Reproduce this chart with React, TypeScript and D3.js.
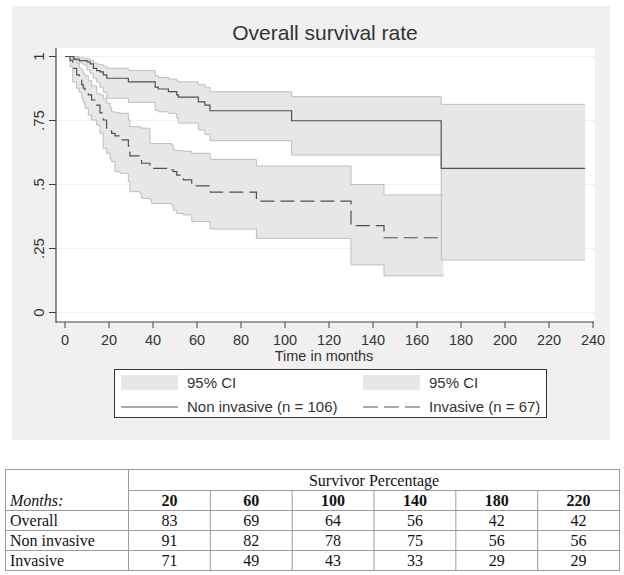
import React, { useEffect, useRef } from 'react';
import * as d3 from 'd3';

const W = 624;
const H = 575;

// Non invasive (n = 106): event times (months), KM estimate and 95% CI
const niTime = [0, 4, 6.4, 8.3, 10, 11.4, 12.9, 14.4, 15.9, 17.4, 19, 28.8, 41, 42.4, 47, 50.8, 51.5, 60.6, 63.6, 65.9, 103, 171, 236.4];
const niSurv = [1, .99, .984, .984, .979, .971, .954, .945, .94, .928, .915, .901, .88, .873, .863, .85, .841, .823, .81, .788, .749, .563, .563];
const niHi = [1, 1, .995, .993, .99, .985, .975, .97, .968, .962, .954, .945, .925, .918, .912, .905, .901, .89, .88, .862, .843, .813, .813];
const niLo = [1, .985, .975, .967, .947, .935, .915, .9, .88, .86, .837, .821, .79, .784, .778, .76, .74, .713, .696, .671, .615, .205, .205];

// Invasive (n = 67)
const invTime = [0, 2.3, 3.5, 5.3, 6.5, 7.6, 8.3, 9.1, 10.6, 12.1, 14.4, 15.9, 17.4, 18.9, 20.5, 21.2, 22.7, 25, 28.8, 29.5, 34, 34.8, 38.6, 39.4, 48.5, 49.2, 50.8, 53.8, 57.6, 66, 87, 130, 145, 172];
const invSurv = [1, .985, .954, .928, .908, .89, .876, .865, .85, .83, .81, .78, .752, .72, .71, .70, .69, .674, .65, .612, .596, .583, .575, .563, .557, .55, .537, .518, .495, .47, .435, .339, .292, .292];
const invHi = [1, 1, .99, .973, .954, .945, .934, .925, .905, .885, .855, .85, .835, .817, .80, .784, .78, .778, .752, .726, .722, .72, .661, .66, .654, .635, .632, .63, .622, .598, .572, .50, .459, .459];
const invLo = [1, .96, .90, .876, .86, .837, .82, .798, .771, .752, .732, .70, .641, .622, .60, .589, .55, .544, .511, .472, .465, .446, .44, .426, .42, .40, .387, .381, .355, .326, .29, .186, .143, .143];

const xTicks = [0, 20, 40, 60, 80, 100, 120, 140, 160, 180, 200, 220, 240];
const yTicks = [0, .25, .5, .75, 1];
const yTickLabels = ['0', '.25', '.5', '.75', '1'];

const tableMonths = [20, 60, 100, 140, 180, 220];
const tableRows = ['Overall', 'Non invasive', 'Invasive'];
const overallPct = [83, 69, 64, 56, 42, 42];
const nonInvPct = [91, 82, 78, 75, 56, 56];
const invPct = [71, 49, 43, 33, 29, 29];

const sans = '"Liberation Sans", Arial, sans-serif';
const serif = '"Liberation Serif", "Times New Roman", serif';

const App = () => {
  const ref = useRef<SVGSVGElement>(null);

  useEffect(() => {
    const svg = d3.select(ref.current);
    svg.selectAll('*').remove();

    svg.append('rect').attr('width', W).attr('height', H).attr('fill', 'white');
    // stata graph region
    svg.append('rect').attr('x', 12).attr('y', 6).attr('width', 598).attr('height', 434).attr('fill', '#f0f0f0');
    svg.append('rect').attr('x', 56).attr('y', 48).attr('width', 539).attr('height', 274).attr('fill', 'white');

    const x = d3.scaleLinear().domain([0, 240]).range([65, 593]);
    const y = d3.scaleLinear().domain([0, 1]).range([312.5, 56.5]);

    // faint grid
    svg.append('g').selectAll('line').data(yTicks).join('line')
      .attr('x1', 57).attr('x2', 595)
      .attr('y1', d => y(d)).attr('y2', d => y(d))
      .attr('stroke', '#f0f0f0').attr('stroke-width', 1);

    svg.append('text')
      .attr('x', 325).attr('y', 40).attr('text-anchor', 'middle')
      .attr('font-family', sans).attr('font-size', 21).attr('fill', '#333')
      .text('Overall survival rate');

    const groups = [
      { t: niTime, s: niSurv, lo: niLo, hi: niHi, dash: null },
      { t: invTime, s: invSurv, lo: invLo, hi: invHi, dash: '14,6' },
    ];

    groups.forEach(g => {
      const idx = d3.range(g.t.length);
      const area = d3.area<number>()
        .x(i => x(g.t[i]))
        .y0(i => y(g.lo[i]))
        .y1(i => y(g.hi[i]))
        .curve(d3.curveStepAfter);
      svg.append('path').attr('d', area(idx)).attr('fill', '#e7e7e7');
    });

    groups.forEach(g => {
      const idx = d3.range(g.t.length);
      [g.lo, g.hi].forEach(arr => {
        const line = d3.line<number>().x(i => x(g.t[i])).y(i => y(arr[i])).curve(d3.curveStepAfter);
        svg.append('path').attr('d', line(idx)).attr('fill', 'none')
          .attr('stroke', '#bdbdbd').attr('stroke-width', 1);
      });
    });

    groups.forEach(g => {
      const idx = d3.range(g.t.length);
      const line = d3.line<number>().x(i => x(g.t[i])).y(i => y(g.s[i])).curve(d3.curveStepAfter);
      const p = svg.append('path').attr('d', line(idx)).attr('fill', 'none')
        .attr('stroke', '#505050').attr('stroke-width', 1.2);
      if (g.dash) p.attr('stroke-dasharray', g.dash);
    });

    // axes
    const yAxis = svg.append('g');
    yAxis.append('line').attr('x1', 56).attr('x2', 56).attr('y1', 48).attr('y2', 322.5)
      .attr('stroke', '#444').attr('stroke-width', 1.2);
    yAxis.selectAll('line.tk').data(yTicks).join('line').attr('class', 'tk')
      .attr('x1', 49).attr('x2', 56).attr('y1', d => y(d)).attr('y2', d => y(d))
      .attr('stroke', '#444').attr('stroke-width', 1);
    yAxis.selectAll('text').data(yTicks).join('text')
      .attr('transform', d => `translate(43.5,${y(d)}) rotate(-90)`)
      .attr('text-anchor', 'middle')
      .attr('font-family', sans).attr('font-size', 15).attr('fill', '#333')
      .text((d, i) => yTickLabels[i]);

    const xAxis = svg.append('g');
    xAxis.append('line').attr('x1', 55.5).attr('x2', 594).attr('y1', 322).attr('y2', 322)
      .attr('stroke', '#444').attr('stroke-width', 1.2);
    xAxis.selectAll('line.tk').data(xTicks).join('line').attr('class', 'tk')
      .attr('x1', d => x(d)).attr('x2', d => x(d)).attr('y1', 322).attr('y2', 328)
      .attr('stroke', '#444').attr('stroke-width', 1);
    xAxis.selectAll('text').data(xTicks).join('text')
      .attr('x', d => x(d)).attr('y', 344.5).attr('text-anchor', 'middle')
      .attr('font-family', sans).attr('font-size', 14.5).attr('fill', '#333')
      .text(d => String(d));
    svg.append('text').attr('x', 324).attr('y', 361).attr('text-anchor', 'middle')
      .attr('font-family', sans).attr('font-size', 14.5).attr('fill', '#333')
      .text('Time in months');

    // legend
    const lg = svg.append('g');
    lg.append('rect').attr('x', 114.5).attr('y', 369.5).attr('width', 432).attr('height', 48)
      .attr('fill', 'white').attr('stroke', '#333').attr('stroke-width', 1);
    const legendCols = [
      { x: 121, label: 'Non invasive (n = 106)', dash: null },
      { x: 363, label: 'Invasive (n = 67)', dash: '15,6' },
    ];
    legendCols.forEach(c => {
      lg.append('rect').attr('x', c.x).attr('y', 375).attr('width', 57).attr('height', 15).attr('fill', '#e7e7e7');
      lg.append('text').attr('x', c.x + 66).attr('y', 388)
        .attr('font-family', sans).attr('font-size', 15).attr('fill', '#333').text('95% CI');
      const l = lg.append('line').attr('x1', c.x).attr('x2', c.x + 57).attr('y1', 407).attr('y2', 407)
        .attr('stroke', '#555').attr('stroke-width', 1);
      if (c.dash) l.attr('stroke-dasharray', c.dash);
      lg.append('text').attr('x', c.x + 66).attr('y', 412)
        .attr('font-family', sans).attr('font-size', 15).attr('fill', '#333').text(c.label);
    });

    // table
    const tb = svg.append('g');
    const tL = 5.5, tR = 619.5, c1 = 128.5;
    const rowY = [469.5, 490.5, 510.5, 530.5, 550.5, 570.5];
    const colW = (tR - c1) / tableMonths.length;
    const colX = d3.range(tableMonths.length).map(i => c1 + colW * (i + 0.5));
    const stroke = '#9a9a9a';
    tb.append('rect').attr('x', tL).attr('y', rowY[0]).attr('width', tR - tL).attr('height', rowY[5] - rowY[0])
      .attr('fill', 'none').attr('stroke', stroke);
    tb.append('line').attr('x1', c1).attr('x2', tR).attr('y1', rowY[1]).attr('y2', rowY[1]).attr('stroke', stroke);
    rowY.slice(2, 5).forEach(ry => {
      tb.append('line').attr('x1', tL).attr('x2', tR).attr('y1', ry).attr('y2', ry).attr('stroke', stroke);
    });
    tb.append('line').attr('x1', c1).attr('x2', c1).attr('y1', rowY[0]).attr('y2', rowY[5]).attr('stroke', stroke);
    d3.range(1, tableMonths.length).forEach(i => {
      const cx = c1 + colW * i;
      tb.append('line').attr('x1', cx).attr('x2', cx).attr('y1', rowY[1]).attr('y2', rowY[5]).attr('stroke', stroke);
    });
    const txt = (xx: number, yy: number, s: string, anchor = 'middle') =>
      tb.append('text').attr('x', xx).attr('y', yy).attr('text-anchor', anchor)
        .attr('font-family', serif).attr('font-size', 16).attr('fill', '#111').text(s);
    txt((c1 + tR) / 2, 486, 'Survivor Percentage');
    txt(10, 506, 'Months:', 'start').attr('font-style', 'italic');
    tableMonths.forEach((m, i) => txt(colX[i], 506, String(m)).attr('font-weight', 'bold'));
    [overallPct, nonInvPct, invPct].forEach((vals, r) => {
      const yy = 526 + r * 20;
      txt(10, yy, tableRows[r], 'start');
      vals.forEach((v, i) => txt(colX[i], yy, String(v)));
    });
  }, []);

  return (
    <svg ref={ref} width={W} height={H}
      style={{ position: 'absolute', left: 0, top: 0, display: 'block' }} />
  );
};

export default App;
